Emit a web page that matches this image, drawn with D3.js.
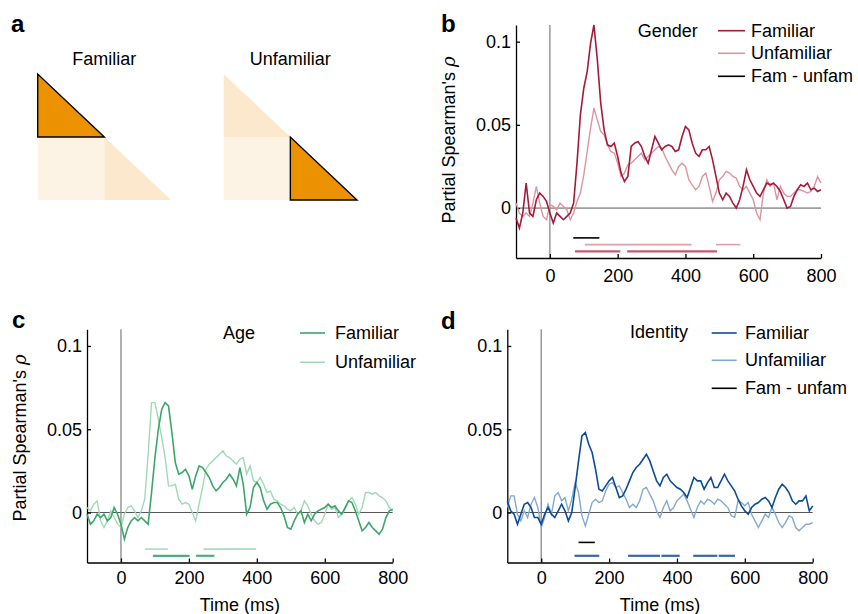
<!DOCTYPE html>
<html>
<head>
<meta charset="utf-8">
<script src="https://cdn.jsdelivr.net/npm/d3@7"></script>
<style>
  body { margin: 0; background: #fff; }
  svg { display: block; font-family: "Liberation Sans", Arial, sans-serif; }
</style>
</head>
<body>
<svg id="fig" width="858" height="614"></svg>
<script>
// time axis, one sample every 10 ms
const time = d3.range(-100, 801, 10);

// Gender
const genderFam = [
  -0.006,-0.012,-0.003,0.015,-0.003,-0.005,0.005,0.009,0.007,0.004,
  -0.003,-0.009,-0.003,-0.005,-0.007,-0.005,-0.003,0.003,0.027,0.056,
  0.072,0.082,0.099,0.110,0.089,0.063,0.047,0.038,0.037,0.039,
  0.031,0.021,0.016,0.019,0.037,0.039,0.040,0.037,0.031,0.027,
  0.035,0.043,0.039,0.035,0.037,0.038,0.037,0.034,0.035,0.043,
  0.049,0.047,0.039,0.033,0.031,0.035,0.035,0.037,0.029,0.019,
  0.009,0.005,0.009,0.007,0.003,0.000,0.005,0.013,0.023,0.017,
  0.013,0.009,0.007,0.011,0.015,0.014,0.015,0.013,0.010,0.005,
  0.000,0.001,0.007,0.011,0.014,0.013,0.015,0.011,0.012,0.010,
  0.011
];
const genderUnf = [
  0.003,-0.003,-0.005,-0.003,-0.005,0.003,0.013,0.003,-0.005,-0.007,
  0.002,0.001,-0.001,0.003,0.001,-0.001,-0.007,-0.003,0.004,0.009,
  0.020,0.034,0.048,0.060,0.053,0.046,0.044,0.038,0.034,0.033,
  0.027,0.019,0.021,0.026,0.027,0.029,0.031,0.033,0.029,0.031,
  0.033,0.035,0.037,0.036,0.031,0.027,0.023,0.020,0.025,0.027,
  0.025,0.017,0.014,0.011,0.013,0.019,0.021,0.013,0.004,0.009,
  0.017,0.019,0.022,0.021,0.019,0.018,0.013,0.011,0.013,0.009,
  0.005,-0.003,-0.007,0.009,0.017,0.013,0.015,0.005,0.013,0.009,
  0.007,0.007,0.009,0.011,0.011,0.010,0.009,0.010,0.013,0.019,
  0.015
];

// Age
const ageFam = [
  -0.001,-0.007,-0.005,-0.001,-0.003,-0.001,-0.005,-0.003,0.003,-0.001,
  -0.007,-0.016,-0.009,-0.005,-0.003,-0.005,-0.003,-0.005,-0.007,0.012,
  0.033,0.050,0.062,0.066,0.064,0.048,0.030,0.023,0.024,0.026,
  0.022,0.014,0.022,0.028,0.027,0.024,0.021,0.016,0.013,0.015,
  0.018,0.020,0.023,0.020,0.016,0.027,0.017,-0.001,0.003,0.015,
  0.018,0.015,0.007,0.002,0.005,0.006,0.006,0.003,-0.002,-0.009,
  -0.010,-0.005,-0.001,0.001,-0.006,-0.001,-0.005,-0.001,0.001,0.002,
  0.003,0.005,0.003,0.004,0.001,-0.001,0.003,0.007,0.006,0.001,
  -0.005,-0.011,-0.009,-0.006,-0.009,-0.011,-0.013,-0.010,-0.003,0.001,
  0.002
];
const ageUnf = [
  0.003,0.001,0.005,0.007,-0.005,-0.009,-0.005,0.001,-0.003,-0.007,
  -0.009,-0.001,0.003,0.004,0.001,-0.003,0.001,0.008,0.035,0.066,
  0.066,0.056,0.045,0.033,0.016,0.016,0.017,0.008,0.005,0.006,
  0.005,0.000,-0.005,0.005,0.015,0.026,0.029,0.031,0.033,0.035,
  0.037,0.034,0.033,0.031,0.029,0.032,0.033,0.023,0.028,0.019,
  0.018,0.021,0.017,0.012,0.013,0.008,0.007,0.005,0.004,0.002,
  0.001,0.003,-0.001,0.001,0.007,0.004,-0.001,-0.005,-0.007,-0.006,
  -0.001,0.005,0.002,0.003,-0.003,-0.001,0.002,0.007,0.009,0.005,
  -0.001,0.003,0.012,0.012,0.011,0.012,0.010,0.009,0.007,0.003,
  0.001
];

// Identity
const identityFam = [
  0.007,0.001,-0.001,-0.007,-0.001,0.005,0.006,0.003,-0.003,-0.003,
  -0.007,-0.001,0.003,-0.001,-0.003,0.001,0.005,0.001,-0.005,0.000,
  0.015,0.031,0.046,0.048,0.041,0.036,0.026,0.014,0.013,0.016,
  0.019,0.021,0.015,0.009,0.010,0.014,0.019,0.024,0.027,0.029,
  0.032,0.035,0.031,0.025,0.019,0.016,0.021,0.023,0.019,0.017,
  0.015,0.014,0.012,0.009,0.015,0.021,0.019,0.019,0.014,0.018,
  0.021,0.015,0.015,0.019,0.023,0.019,0.016,0.013,0.008,0.004,
  0.001,-0.001,0.003,0.005,0.006,0.008,0.009,0.007,0.003,0.009,
  0.014,0.017,0.015,0.012,0.007,0.005,0.007,0.007,0.010,0.001,
  0.004
];
const identityUnf = [
  0.003,0.010,0.010,-0.001,-0.005,0.001,-0.003,0.005,0.009,0.003,
  -0.009,-0.003,0.005,-0.001,0.010,0.012,0.007,0.009,0.001,0.008,
  0.018,0.012,-0.002,-0.008,-0.001,0.006,0.008,0.006,0.007,0.013,
  0.017,0.018,0.015,0.016,0.012,0.008,0.003,0.005,0.003,0.007,
  0.014,0.015,0.011,0.007,0.001,-0.003,0.003,0.007,0.001,0.003,
  0.007,0.009,0.011,0.007,0.002,-0.003,0.003,0.007,0.005,0.008,
  0.007,0.005,0.008,0.007,0.005,0.003,-0.002,-0.003,0.007,0.006,
  0.004,0.006,-0.001,-0.005,-0.009,-0.005,-0.001,-0.003,0.003,-0.001,
  -0.006,-0.009,-0.006,-0.002,-0.003,-0.009,-0.011,-0.009,-0.007,-0.007,
  -0.006
];

// significant time windows (ms)
const genderSigDiff = [[69, 146]];
const genderSigUnf = [[103, 418], [490, 562]];
const genderSigFam = [[74, 208], [228, 493]];
const ageSigUnf = [[71, 138], [243, 398]];
const ageSigFam = [[94, 202], [221, 275]];
const identitySigDiff = [[110, 158]];
const identitySigFam = [[98, 171], [256, 350], [354, 408], [448, 519], [523, 571]];

const xTicks = [0, 200, 400, 600, 800];
const yTicks = [0, 0.05, 0.1];
const legendLabels = ['Familiar', 'Unfamiliar', 'Fam - unfam'];

// panel a schematic: lower triangle of a 2x2 block matrix
const matTitles = ['Familiar', 'Unfamiliar'];
const matCells = [
  { row: 0, col: 0, shape: 'tri' },
  { row: 1, col: 0, shape: 'sq' },
  { row: 1, col: 1, shape: 'tri' }
];
const matHighlight = [0, 2];

const svg = d3.select('#fig');

// ---- panel a ----
const orange = '#ec9200', pale = '#fbe8cd', paler = '#fdf3e5';
matTitles.forEach((title, k) => {
  const x0 = 37.7 + k * 186;
  const mx = d3.scaleLinear().domain([0, 2]).range([x0, x0 + 133.3]);
  const my = d3.scaleLinear().domain([0, 2]).range([74, 200]);
  const g = svg.append('g');
  g.append('text')
    .attr('x', (mx(0) + mx(2)) / 2).attr('y', 65)
    .attr('text-anchor', 'middle').style('font-size', '18px')
    .text(title);
  matCells.forEach((c, i) => {
    let pts;
    if (c.shape === 'tri') {
      pts = [[mx(c.col), my(c.row)], [mx(c.col), my(c.row + 1)], [mx(c.col + 1), my(c.row + 1)]];
    } else {
      pts = [[mx(c.col), my(c.row)], [mx(c.col + 1), my(c.row)], [mx(c.col + 1), my(c.row + 1)], [mx(c.col), my(c.row + 1)]];
    }
    const hi = matHighlight[k] === i;
    g.append('polygon')
      .attr('points', pts.map(p => p.join(',')).join(' '))
      .style('fill', hi ? orange : (c.shape === 'sq' ? paler : pale))
      .style('stroke', hi ? '#000' : 'none')
      .style('stroke-width', 1.4)
      .attr('data-hi', hi ? 1 : 0);
  });
  // outlined cell on top
  g.selectAll('polygon[data-hi="1"]').raise();
});

// ---- line panels ----
function drawPanel(cfg) {
  const x = d3.scaleLinear().domain([-100, 800]).range([cfg.left, cfg.right]);
  const y = d3.scaleLinear().domain([-0.03, 0.11]).range([cfg.bottom, cfg.top]);
  const g = svg.append('g');

  g.append('line')
    .attr('x1', x(-100)).attr('x2', x(800)).attr('y1', y(0)).attr('y2', y(0))
    .style('stroke', '#555').style('stroke-width', 1);
  g.append('line')
    .attr('x1', x(0)).attr('x2', x(0)).attr('y1', cfg.top).attr('y2', cfg.bottom)
    .style('stroke', '#888').style('stroke-width', 1.3);

  const xAxis = g.append('g')
    .attr('transform', 'translate(0,' + cfg.bottom + ')')
    .call(d3.axisBottom(x).tickValues(xTicks).tickSizeInner(-4).tickSizeOuter(0).tickPadding(cfg.xPad));
  const yAxis = g.append('g')
    .attr('transform', 'translate(' + cfg.left + ',0)')
    .call(d3.axisLeft(y).tickValues(yTicks).tickSizeInner(-4).tickSizeOuter(0).tickPadding(5).tickFormat(d => String(d)));
  [xAxis, yAxis].forEach(a => {
    a.selectAll('path, line').style('stroke', '#000').style('stroke-width', 1.3);
    a.selectAll('text').style('font-size', '18px').style('font-family', '"Liberation Sans", Arial, sans-serif').style('fill', '#000');
  });

  // significance bars
  cfg.sig.forEach(s => {
    g.selectAll(null).data(s.data).join('line')
      .attr('x1', d => x(d[0])).attr('x2', d => x(d[1]))
      .attr('y1', cfg.bottom - 6.7 * s.level).attr('y2', cfg.bottom - 6.7 * s.level)
      .style('stroke', s.color).style('stroke-width', s.width);
  });

  const line = d3.line().x((d, i) => x(time[i])).y(d => y(d));
  g.append('path').datum(cfg.unf).attr('d', line)
    .style('fill', 'none').style('stroke', cfg.colors[1]).style('stroke-width', 1.4);
  g.append('path').datum(cfg.fam).attr('d', line)
    .style('fill', 'none').style('stroke', cfg.colors[0]).style('stroke-width', 1.6);

  // legend
  const lg = cfg.legend;
  g.append('text').attr('x', lg.titleX).attr('y', lg.titleY)
    .style('font-size', '18px').text(lg.title);
  lg.rows.forEach((ry, i) => {
    g.append('line').attr('x1', lg.x1).attr('x2', lg.x2).attr('y1', ry).attr('y2', ry)
      .style('stroke', cfg.colors[i]).style('stroke-width', 1.6);
    g.append('text').attr('x', lg.textX).attr('y', ry + 6)
      .style('font-size', '18px').text(legendLabels[i]);
  });

  if (cfg.yLabel) {
    const t = g.append('text')
      .attr('transform', 'translate(' + cfg.yLabel[0] + ',' + cfg.yLabel[1] + ') rotate(-90)')
      .attr('text-anchor', 'middle').style('font-size', '18px');
    t.append('tspan').text("Partial Spearman's ");
    t.append('tspan').style('font-style', 'italic').style('font-family', '"DejaVu Serif", serif').text('ρ');
  }
  if (cfg.xTitle) {
    g.append('text').attr('x', (cfg.left + cfg.right) / 2).attr('y', cfg.xTitle)
      .attr('text-anchor', 'middle').style('font-size', '18px').text('Time (ms)');
  }
}

drawPanel({
  left: 516, right: 821, top: 25, bottom: 258, xPad: 11.5,
  fam: genderFam, unf: genderUnf,
  colors: ['#a51a3b', '#db95a0', '#000'],
  sig: [
    { data: genderSigDiff, level: 3, color: '#000', width: 1.6 },
    { data: genderSigUnf, level: 2, color: '#dea0aa', width: 1.6 },
    { data: genderSigFam, level: 1, color: '#c45a6c', width: 2.2 }
  ],
  legend: { title: 'Gender', titleX: 637.7, titleY: 37, x1: 718, x2: 745, textX: 751, rows: [30.7, 53.3, 76.3] },
  yLabel: [455, 140]
});

drawPanel({
  left: 87, right: 392.7, top: 329.3, bottom: 562.5, xPad: 9,
  fam: ageFam, unf: ageUnf,
  colors: ['#3ea56c', '#a0d9b5'],
  sig: [
    { data: ageSigUnf, level: 2, color: '#a8dcbc', width: 1.6 },
    { data: ageSigFam, level: 1, color: '#4caf7b', width: 2.2 }
  ],
  legend: { title: 'Age', titleX: 223, titleY: 338.5, x1: 300, x2: 325, textX: 335, rows: [333, 362.3] },
  yLabel: [26, 438],
  xTitle: 610.5
});

drawPanel({
  left: 507.3, right: 812.7, top: 329.3, bottom: 562.5, xPad: 9,
  fam: identityFam, unf: identityUnf,
  colors: ['#0e4b93', '#84a9d0', '#000'],
  sig: [
    { data: identitySigDiff, level: 3, color: '#000', width: 1.6 },
    { data: identitySigFam, level: 1, color: '#3468a8', width: 2.2 }
  ],
  legend: { title: 'Identity', titleX: 630, titleY: 338, x1: 711.7, x2: 736.7, textX: 745, rows: [333, 360.3, 388.3] },
  xTitle: 610.5
});

// panel letters
const letters = [['a', 11, 32], ['b', 441, 32], ['c', 12, 328], ['d', 441, 329]];
svg.selectAll('text.panel').data(letters).join('text')
  .attr('class', 'panel')
  .attr('x', d => d[1]).attr('y', d => d[2])
  .style('font-size', '24px').style('font-weight', 'bold')
  .text(d => d[0]);
</script>
</body>
</html>
